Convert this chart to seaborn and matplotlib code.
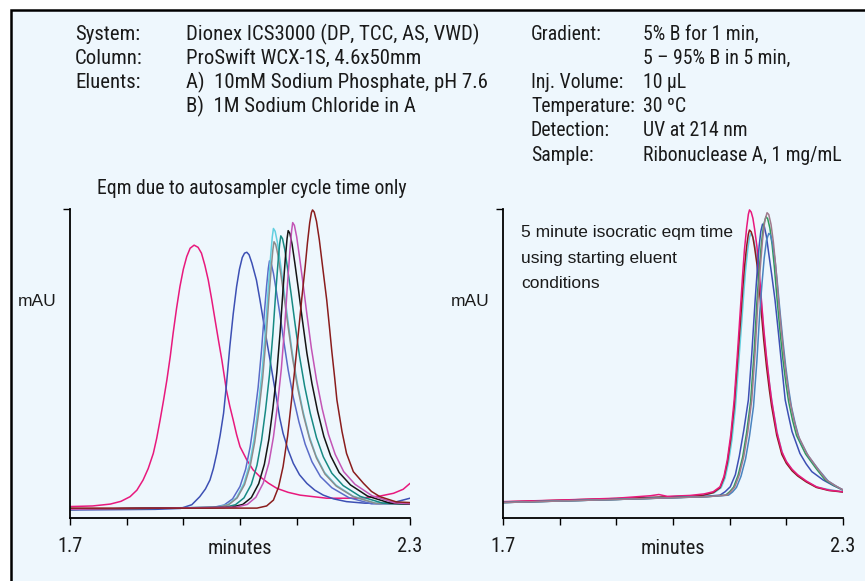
import pandas as pd
import matplotlib
matplotlib.use("Agg")
import matplotlib.pyplot as plt
from matplotlib.patches import Rectangle
import seaborn as sns

W, H = 865, 581

# ---- left panel: eqm due to autosampler cycle time only (min, % of full scale)
L_pink = [(1.700, 3.7), (1.740, 3.9), (1.771, 4.5), (1.790, 5.4), (1.806, 6.9), (1.818, 9.0),
          (1.829, 12.3), (1.838, 16.0), (1.847, 20.9), (1.853, 25.8), (1.859, 31.7), (1.865, 38.0),
          (1.871, 44.7), (1.877, 52.4), (1.882, 59.8), (1.888, 67.8), (1.894, 74.9), (1.900, 80.5),
          (1.906, 84.6), (1.912, 87.3), (1.919, 88.3), (1.926, 87.6), (1.932, 85.7), (1.938, 81.8),
          (1.944, 77.0), (1.950, 70.8), (1.956, 64.1), (1.962, 57.5), (1.968, 51.1), (1.976, 41.4),
          (1.982, 36.2), (1.988, 31.7), (1.994, 27.0), (2.000, 23.1), (2.012, 18.8), (2.023, 15.6),
          (2.035, 13.4), (2.050, 11.3), (2.065, 9.6), (2.085, 8.3), (2.106, 7.4), (2.153, 6.4),
          (2.212, 6.4), (2.247, 7.1), (2.271, 8.0), (2.288, 9.3), (2.300, 11.2)]
L_blue = [(1.700, 2.6), (1.850, 2.8), (1.895, 3.1), (1.915, 4.3), (1.929, 6.9), (1.939, 9.4),
          (1.947, 12.3), (1.953, 16.0), (1.959, 20.9), (1.965, 26.8), (1.971, 33.9), (1.976, 43.0),
          (1.982, 55.4), (1.988, 66.0), (1.994, 74.9), (1.999, 80.5), (2.004, 84.3), (2.008, 85.7),
          (2.012, 86.0), (2.016, 85.2), (2.021, 82.5), (2.029, 77.0), (2.035, 70.8), (2.041, 64.1),
          (2.047, 57.5), (2.053, 51.1), (2.059, 44.5), (2.065, 38.2), (2.070, 32.5), (2.076, 27.4),
          (2.085, 22.0), (2.094, 17.7), (2.105, 14.0), (2.118, 11.2), (2.132, 9.0), (2.147, 7.4),
          (2.165, 6.2), (2.188, 5.3), (2.220, 4.8), (2.247, 4.7), (2.275, 5.2), (2.300, 6.4)]
L_slate = [(1.700, 2.8), (1.952, 3.4), (1.972, 4.2), (1.987, 6.2), (2.000, 10.2), (2.010, 15.8),
           (2.018, 23.1), (2.025, 31.9), (2.032, 42.3), (2.038, 54.3), (2.043, 66.4), (2.047, 75.2),
           (2.050, 80.8), (2.052, 83.2), (2.055, 82.4), (2.059, 79.2), (2.064, 73.6), (2.070, 66.4),
           (2.077, 57.5), (2.085, 47.9), (2.094, 39.1), (2.104, 31.1), (2.115, 23.9), (2.127, 18.2),
           (2.142, 13.4), (2.162, 9.8), (2.192, 6.6), (2.232, 4.6), (2.300, 4.5)]
L_cyan = [(1.700, 2.8), (1.959, 3.5), (1.979, 4.4), (1.994, 6.6), (2.007, 11.2), (2.017, 17.5),
          (2.025, 25.7), (2.032, 35.7), (2.039, 47.4), (2.045, 61.0), (2.050, 74.7), (2.054, 84.6),
          (2.057, 91.0), (2.059, 93.7), (2.062, 92.8), (2.066, 89.2), (2.071, 82.8), (2.077, 74.7),
          (2.084, 64.7), (2.092, 53.8), (2.101, 43.8), (2.111, 34.7), (2.122, 26.6), (2.134, 20.2),
          (2.149, 14.8), (2.169, 10.7), (2.199, 7.1), (2.239, 4.8), (2.300, 4.5)]
L_gray = [(1.700, 2.8), (1.960, 3.4), (1.980, 4.3), (1.995, 6.5), (2.008, 10.8), (2.018, 16.8),
          (2.026, 24.6), (2.033, 34.1), (2.040, 45.3), (2.046, 58.3), (2.051, 71.3), (2.055, 80.8),
          (2.058, 86.8), (2.060, 89.4), (2.063, 88.5), (2.067, 85.1), (2.072, 79.0), (2.078, 71.3),
          (2.085, 61.8), (2.093, 51.4), (2.102, 41.9), (2.112, 33.2), (2.123, 25.5), (2.135, 19.4),
          (2.150, 14.2), (2.170, 10.3), (2.200, 6.9), (2.240, 4.7), (2.300, 4.5)]
L_teal = [(1.700, 2.8), (1.972, 3.4), (1.992, 4.3), (2.007, 6.5), (2.020, 10.9), (2.030, 17.1),
          (2.038, 25.1), (2.045, 34.8), (2.052, 46.3), (2.058, 59.5), (2.063, 72.8), (2.067, 82.5),
          (2.070, 88.7), (2.072, 91.3), (2.075, 90.4), (2.079, 86.9), (2.084, 80.7), (2.090, 72.8),
          (2.097, 63.0), (2.105, 52.4), (2.114, 42.7), (2.124, 33.9), (2.135, 26.0), (2.147, 19.8),
          (2.162, 14.5), (2.182, 10.5), (2.212, 7.0), (2.252, 4.8), (2.300, 4.5)]
L_black = [(1.700, 2.8), (1.985, 3.5), (2.005, 4.4), (2.020, 6.6), (2.033, 11.1), (2.043, 17.4),
           (2.051, 25.5), (2.058, 35.4), (2.065, 47.1), (2.071, 60.6), (2.076, 74.1), (2.080, 84.0),
           (2.083, 90.3), (2.085, 93.0), (2.088, 92.1), (2.092, 88.5), (2.097, 82.2), (2.103, 74.1),
           (2.110, 64.2), (2.118, 53.4), (2.127, 43.5), (2.137, 34.5), (2.148, 26.4), (2.160, 20.1),
           (2.175, 14.7), (2.195, 10.7), (2.225, 7.1), (2.265, 4.8), (2.300, 4.5)]
L_orchid = [(1.700, 2.8), (1.993, 3.5), (2.013, 4.4), (2.028, 6.7), (2.041, 11.3), (2.051, 17.8),
            (2.059, 26.2), (2.066, 36.3), (2.073, 48.4), (2.079, 62.3), (2.084, 76.2), (2.088, 86.3),
            (2.091, 92.8), (2.093, 95.6), (2.096, 94.7), (2.100, 91.0), (2.105, 84.5), (2.111, 76.2),
            (2.118, 66.0), (2.126, 54.9), (2.135, 44.7), (2.145, 35.4), (2.156, 27.1), (2.168, 20.6),
            (2.183, 15.0), (2.203, 10.9), (2.233, 7.2), (2.273, 4.9), (2.300, 4.6)]
L_brown = [(1.700, 3.2), (2.030, 3.2), (2.047, 3.9), (2.059, 5.8), (2.068, 10.0), (2.076, 16.6),
           (2.084, 26.5), (2.091, 38.2), (2.097, 48.8), (2.103, 59.8), (2.109, 71.0), (2.115, 81.3),
           (2.119, 89.0), (2.123, 95.5), (2.126, 98.8), (2.128, 99.7), (2.131, 99.0), (2.135, 96.0),
           (2.140, 90.0), (2.146, 81.0), (2.153, 70.6), (2.158, 61.5), (2.162, 54.0), (2.167, 45.5),
           (2.171, 38.2), (2.176, 32.5), (2.180, 28.0), (2.188, 20.9), (2.200, 15.0), (2.218, 11.2),
           (2.232, 8.6), (2.247, 6.9), (2.276, 5.2), (2.300, 5.0)]

# ---- right panel: 5 minute isocratic eqm time
R_pink = [(1.700, 5.3), (1.800, 5.8), (1.900, 6.4), (1.960, 7.2), (1.975, 7.6), (1.990, 7.0),
          (2.030, 7.3), (2.055, 7.8), (2.071, 8.5), (2.083, 10.1), (2.090, 13.5), (2.096, 19.0),
          (2.102, 27.0), (2.108, 38.2), (2.114, 54.0), (2.120, 70.6), (2.123, 79.0), (2.126, 86.7),
          (2.130, 94.0), (2.133, 98.3), (2.135, 99.7), (2.138, 99.0), (2.141, 97.0), (2.144, 93.5),
          (2.148, 88.0), (2.152, 80.0), (2.156, 70.6), (2.160, 61.5), (2.165, 52.0), (2.170, 44.0),
          (2.174, 38.2), (2.183, 28.0), (2.192, 21.5), (2.200, 18.3), (2.210, 15.8), (2.220, 14.0),
          (2.235, 12.0), (2.253, 10.1), (2.275, 9.0), (2.300, 8.5)]
R_cyan = [(1.700, 5.1), (1.900, 6.2), (2.050, 7.2), (2.073, 8.2), (2.085, 9.8), (2.092, 13.0),
          (2.098, 18.0), (2.104, 25.3), (2.110, 35.6), (2.116, 50.4), (2.122, 65.2), (2.125, 73.0),
          (2.128, 80.0), (2.132, 87.0), (2.135, 90.8), (2.137, 92.0), (2.140, 91.4), (2.143, 89.6),
          (2.146, 86.4), (2.150, 81.2), (2.154, 74.0), (2.158, 65.4), (2.162, 57.0), (2.167, 48.4),
          (2.172, 41.0), (2.176, 35.8), (2.185, 26.6), (2.194, 20.4), (2.202, 17.6), (2.212, 15.2),
          (2.222, 13.5), (2.237, 11.6), (2.255, 9.9), (2.300, 8.4)]
R_brown = [(1.700, 5.2), (1.900, 6.3), (2.050, 7.2), (2.071, 8.2), (2.083, 9.8), (2.090, 13.0),
           (2.096, 18.0), (2.102, 25.5), (2.108, 36.0), (2.114, 51.0), (2.120, 66.0), (2.123, 74.0),
           (2.126, 81.0), (2.130, 88.0), (2.133, 91.9), (2.135, 93.2), (2.138, 92.6), (2.141, 90.8),
           (2.144, 87.5), (2.148, 82.3), (2.152, 75.0), (2.156, 66.3), (2.160, 57.8), (2.165, 49.0),
           (2.170, 41.5), (2.174, 36.2), (2.183, 26.8), (2.192, 20.6), (2.200, 17.7), (2.210, 15.3),
           (2.220, 13.6), (2.235, 11.7), (2.253, 9.9), (2.275, 8.9), (2.300, 8.4)]
R_blue = [(1.700, 5.0), (1.900, 6.0), (2.050, 6.9), (2.083, 7.4), (2.092, 8.5), (2.101, 10.1),
          (2.110, 14.0), (2.117, 20.0), (2.125, 28.5), (2.133, 38.2), (2.139, 53.0), (2.145, 70.6),
          (2.149, 81.0), (2.152, 88.0), (2.155, 92.8), (2.158, 95.1), (2.161, 94.5), (2.165, 91.0),
          (2.169, 85.5), (2.174, 79.0), (2.180, 70.6), (2.186, 60.0), (2.192, 49.0), (2.198, 38.2),
          (2.204, 33.0), (2.210, 28.0), (2.224, 20.9), (2.235, 17.5), (2.245, 15.0), (2.265, 12.3),
          (2.283, 10.5), (2.300, 9.1)]
R_green = [(1.700, 5.0), (1.900, 6.0), (2.060, 6.9), (2.093, 7.4), (2.100, 8.5), (2.107, 10.0),
           (2.115, 13.9), (2.123, 19.8), (2.130, 27.7), (2.137, 37.7), (2.143, 53.3), (2.148, 69.7),
           (2.152, 80.0), (2.156, 88.8), (2.160, 94.9), (2.164, 97.5), (2.167, 96.9), (2.171, 93.8),
           (2.175, 88.3), (2.179, 81.0), (2.184, 70.1), (2.189, 60.2), (2.194, 51.3), (2.199, 43.9),
           (2.204, 37.7), (2.211, 31.6), (2.218, 26.7), (2.234, 20.7), (2.253, 15.9), (2.269, 12.2),
           (2.285, 10.4), (2.300, 9.0)]
R_tealblue = [(1.700, 5.0), (1.900, 6.0), (2.060, 6.9), (2.098, 7.4), (2.105, 8.4), (2.112, 9.9),
              (2.120, 13.5), (2.128, 19.1), (2.135, 26.5), (2.142, 36.0), (2.148, 50.7), (2.153, 66.2),
              (2.157, 75.8), (2.161, 84.2), (2.165, 89.9), (2.169, 92.1), (2.172, 91.6), (2.176, 88.6),
              (2.180, 83.5), (2.184, 76.5), (2.189, 66.5), (2.194, 57.2), (2.199, 48.9), (2.204, 41.9),
              (2.209, 36.0), (2.216, 30.3), (2.223, 25.6), (2.239, 20.0), (2.258, 15.4), (2.274, 11.9),
              (2.288, 10.3), (2.300, 9.0)]
R_mauve = [(1.700, 5.0), (1.900, 6.0), (2.060, 6.9), (2.095, 7.4), (2.102, 8.5), (2.109, 10.1),
           (2.117, 14.0), (2.125, 20.0), (2.132, 28.0), (2.139, 38.2), (2.145, 54.0), (2.150, 70.6),
           (2.154, 81.0), (2.158, 90.0), (2.162, 96.2), (2.166, 98.8), (2.169, 98.2), (2.173, 95.0),
           (2.177, 89.5), (2.181, 82.0), (2.186, 71.0), (2.191, 61.0), (2.196, 52.0), (2.201, 44.5),
           (2.206, 38.2), (2.213, 32.0), (2.220, 27.0), (2.236, 20.9), (2.255, 16.0), (2.271, 12.3),
           (2.286, 10.5), (2.300, 9.1)]

left_traces = {"pink": L_pink, "blue": L_blue, "slate": L_slate, "cyan": L_cyan, "gray": L_gray,
               "teal": L_teal, "black": L_black, "orchid": L_orchid, "brown": L_brown}
right_traces = {"cyan": R_cyan, "brown": R_brown, "pink": R_pink, "blue": R_blue,
                "green": R_green, "tealblue": R_tealblue, "mauve": R_mauve}

colors = {"pink": "#e8197d", "blue": "#3d50b4", "slate": "#5a6cc8", "cyan": "#62cfe0",
          "gray": "#8c8c8c", "teal": "#178a84", "black": "#151515", "orchid": "#c355b6",
          "brown": "#8a1d1d", "green": "#2f9a5c", "tealblue": "#4a84c0", "mauve": "#a07a8c"}

x_ticks = [1.7, 1.8, 1.9, 2.0, 2.1, 2.2, 2.3]
x_ticklabels = ["1.7", "", "", "", "", "", "2.3"]

header_left = [("System:", "Dionex ICS3000 (DP, TCC, AS, VWD)"),
               ("Column:", "ProSwift WCX-1S, 4.6x50mm"),
               ("Eluents:", "A)  10mM Sodium Phosphate, pH 7.6"),
               ("", "B)  1M Sodium Chloride in A")]
header_right = [("Gradient:", "5% B for 1 min,"),
                ("", "5 \u2013 95% B in 5 min,"),
                ("Inj. Volume:", "10 \u00b5L"),
                ("Temperature:", "30 \u00baC"),
                ("Detection:", "UV at 214 nm"),
                ("Sample:", "Ribonuclease A, 1 mg/mL")]
note_lines = ["5 minute isocratic eqm time", "using starting eluent", "conditions"]


def to_frame(traces):
    rows = []
    for name, pts in traces.items():
        for t, v in pts:
            rows.append((name, t, v))
    return pd.DataFrame(rows, columns=["trace", "minutes", "mAU"])


def fx(x):
    return x / W


def fy(y):
    return 1 - y / H


sns.set_theme(style="white")
narrow = ["Roboto Condensed", "Liberation Sans Narrow", "Arial Narrow", "Liberation Sans"]
regular = ["Liberation Sans", "DejaVu Sans"]
plt.rcParams["font.family"] = regular

bg = "#eef7fd"
ink = "#1a1a1a"
fig = plt.figure(figsize=(W / 100, H / 100), dpi=100, facecolor="white")
renderer = fig.canvas.get_renderer()


def width_px(text, family, size):
    t = fig.text(0, 0, text, fontsize=size, family=family)
    w = t.get_window_extent(renderer).width
    t.remove()
    return w


def fit(text, family, target_px, size0=12.0):
    return size0 * target_px / width_px(text, family, size0)


fig.add_artist(Rectangle((fx(11), -0.1), 1.2, fy(10) + 0.1, transform=fig.transFigure,
                         facecolor=bg, edgecolor="black", linewidth=1.8, zorder=0))

axis_size = fit("minutes", narrow, 64)

panels = [(70, left_traces), (503, right_traces)]
for x0, traces in panels:
    ax = fig.add_axes([fx(x0), fy(518), 340 / W, 309 / H])
    ax.patch.set_visible(False)
    df = to_frame(traces)
    names = list(traces.keys())
    sns.lineplot(data=df, x="minutes", y="mAU", hue="trace", hue_order=names,
                 palette={n: colors[n] for n in names}, estimator=None, sort=False,
                 legend=False, linewidth=1.1, ax=ax)
    ax.set_xlim(1.7, 2.3)
    ax.set_ylim(0, 100)
    sns.despine(ax=ax)
    for s in ("left", "bottom"):
        ax.spines[s].set_color("black")
        ax.spines[s].set_linewidth(1.3)
    ax.set_xticks(x_ticks)
    ax.set_xticklabels(x_ticklabels, fontsize=axis_size, family=narrow, color=ink)
    ax.set_yticks([100])
    ax.set_yticklabels([""])
    ax.tick_params(axis="both", direction="out", length=5, width=1.0, color="black",
                   bottom=True, left=True, pad=9)
    ax.set_xlabel("")
    ax.set_ylabel("")

    fig.text(fx(x0 + 170), fy(549), "minutes", ha="center", va="center",
             fontsize=axis_size, family=narrow, color=ink)
    fig.text(fx(x0 - 52), fy(301), "mAU", ha="left", va="center",
             fontsize=12.5, family=regular, color=ink)

# header blocks
hsize = fit(header_left[0][1], narrow, 293)
hdr = dict(family=narrow, ha="left", va="center", color=ink)
for i, (lab, val) in enumerate(header_left):
    fig.text(fx(75), fy(34 + 24 * i), lab, fontsize=hsize, **hdr)
    fig.text(fx(186), fy(34 + 24 * i), val, fontsize=hsize, **hdr)

rsize = hsize * 0.95
val_x = max(842 - width_px(header_right[-1][1], narrow, rsize),
            531 + width_px("Temperature:", narrow, rsize) + 3)
for i, (lab, val) in enumerate(header_right):
    fig.text(fx(531), fy(34 + 24.2 * i), lab, fontsize=rsize, **hdr)
    fig.text(fx(val_x), fy(34 + 24.2 * i), val, fontsize=rsize, **hdr)

eqm = "Eqm due to autosampler cycle time only"
fig.text(fx(97), fy(188), eqm, fontsize=fit(eqm, narrow, 310), **hdr)

nsize = fit(note_lines[0], regular, 212)
for i, line in enumerate(note_lines):
    fig.text(fx(521), fy(233 + 25 * i), line, ha="left", va="center",
             fontsize=nsize, family=regular, color=ink)

fig.savefig("out.png", dpi=100, facecolor="white")
